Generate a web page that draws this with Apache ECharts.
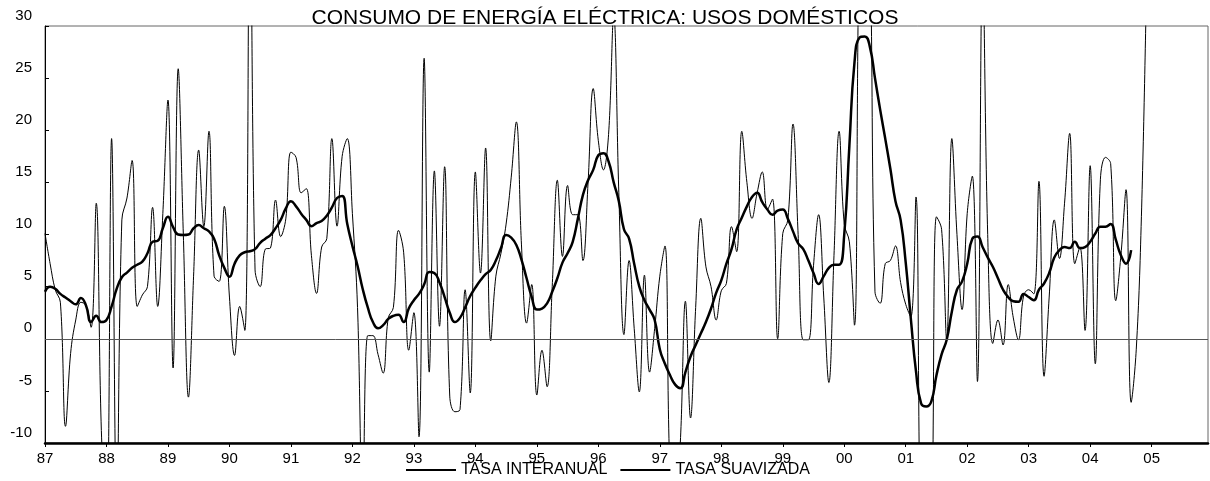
<!DOCTYPE html>
<html>
<head>
<meta charset="utf-8">
<script src="https://cdn.jsdelivr.net/npm/echarts@6/dist/echarts.min.js"></script>
<style>html,body{margin:0;padding:0;background:#fff}#c{width:1210px;height:481px}</style>
</head>
<body>
<div id="c"></div>
<script>
// Months 1987M01 .. 2005M12
const firstYear = 1987;
const lastYear = 2005;
const categories = [];
for (let y = firstYear; y <= lastYear; y++) {
  for (let m = 1; m <= 12; m++) categories.push(y + '-' + (m < 10 ? '0' + m : m));
}
const yTicks = { min: -10, max: 30, step: 5 };

const tasaInteranual = [
  10.1, 7.2, 4.7, 3.5, -8.4, -1.4, 1.8, 3.5, 3.2, 1.1, 13.0, -8.8,
  -18, 19.2, -17, 11.4, 13.5, 17.1, 3.1, 4.2, 5.0, 12.6, 3.1, 12,
  22.9, -2.8, 25.9, 10, -5.6, 6, 18.1, 10.75, 19.9, 6.0, 5.5, 12.7,
  4, -1.6, 3.1, 0.8, 45, 6.6, 5.0, 8.6, 8.7, 13.3, 9.8, 11.5,
  17.9, 17.4, 14.0, 14.4, 8, 4.35, 8.8, 9.6, 19.2, 10.8, 17.5, 19.2,
  12, 3, -16, 0.3, 0.3, -1.5, -3.3, 2.0, 3.0, 10.4, 8.3, -1.1,
  2.5, -9.4, 26.9, -3.2, 16.1, 1.2, 16.5, -5.5, -7.0, -6.8, 4.7, -5.2,
  16.0, 6.3, 18.3, -0.2, 6.0, 8.2, 11, 15.5, 20.8, 9, 1.5, 5.2,
  -5.4, -1.1, -4.6, 5, 15.2, 7.9, 14.7, 11.9, 11.9, 7.5, 15, 24.0,
  19, 16.2, 19.6, 31, 14, 0.4, 7.5, 1, -5.1, 6.1, -3.2, 1,
  6, 8.9, -13, -16, -10, 3.6, -7.6, 3, 11.55, 6.9, 5.0, 1.8,
  4.6, 5.3, 10.75, 8.35, 19.9, 15, 11.55, 14, 16.0, 12.4, 13.4, 0.0,
  10.1, 11.4, 20.6, 10, -0.1, -0.1, 7, 11.9, 4, -4.2, 8, 19.9,
  11, 9.3, 1.3, 40, 45, 38, 4.5, 3.4, 7.2, 7.5, 8.9, 5.4,
  3.3, 2.1, 13.6, -22, -25, -20, 11.7, 10.5, -0.1, 19.2, 10, 2.8,
  12, 15.6, -4.1, 36, 10, -0.45, 1.8, -0.6, 5.2, 2, -0.1, 4.1,
  4.7, 4.3, 15.1, -3.6, 4, 11.4, 7.7, 13, 19.7, 7.2, 8.8, 0.8,
  16.6, -2.4, 15.3, 17.4, 16.8, 3.65, 8, 14.3, -6.1, -1, 11.7, 34
];

const tasaSuavizada = [
  4.5, 5.0, 4.8, 4.3, 3.95, 3.6, 3.3, 3.9, 3.2, 1.6, 2.2, 1.6,
  1.8, 3.1, 4.8, 5.9, 6.35, 6.8, 7.1, 7.4, 8.2, 9.3, 9.4, 10.6,
  11.7, 10.7, 10.0, 9.95, 10.0, 10.6, 10.9, 10.6, 10.3, 9.6, 8.0, 6.8,
  5.95, 7.2, 8.0, 8.3, 8.4, 8.6, 9.2, 9.6, 9.95, 10.6, 11.4, 12.5,
  13.2, 12.7, 12.0, 11.4, 10.8, 11.1, 11.3, 11.8, 12.6, 13.5, 13.7, 11.0,
  8.9, 7.0, 4.8, 3.0, 1.6, 1.0, 1.3, 1.9, 2.2, 2.3, 1.6, 2.9,
  3.7, 4.3, 5.2, 6.4, 6.3, 5.4, 4.0, 2.5, 1.6, 2.0, 3.0, 4.1,
  4.9, 5.6, 6.2, 6.6, 7.5, 8.7, 9.95, 9.7, 9.0, 7.6, 5.8, 4.0,
  2.8, 2.9, 3.4, 4.5, 5.8, 7.3, 8.2, 9.3, 11.5, 13.8, 15.2, 16.2,
  17.6, 17.8, 17.0, 15.0, 13.2, 10.5, 9.6, 7.2, 5.0, 3.7, 2.8, 1.8,
  -1.0, -2.4, -3.5, -4.4, -4.75, -3.2, -1.7, -0.6, 0.5, 1.6, 2.9, 4.4,
  5.6, 7.2, 8.6, 10.5, 11.6, 12.7, 13.6, 14.0, 13.1, 12.4, 11.9, 12.3,
  12.4, 11.5, 10.3, 9.15, 8.6, 7.5, 6.3, 5.25, 6.0, 6.8, 7.1, 7.1,
  10.0, 18.5, 26.5, 28.9, 29.0, 28.0, 25.0, 22.0, 19.2, 16.3, 13.2, 11.4,
  7.3, 1.9, -3.1, -6.2, -6.5, -6.0, -3.5, -1.5, -0.1, 2.6, 4.7, 5.5,
  7.2, 9.6, 9.8, 8.8, 7.8, 6.9, 5.8, 4.7, 4.0, 3.6, 3.55, 4.3,
  4.0, 3.7, 4.7, 5.3, 6.3, 7.8, 8.5, 8.8, 8.7, 9.3, 8.7, 8.8,
  9.3, 10.1, 10.75, 10.75, 11.0, 9.5, 8.0, 7.2, 8.5
];

const FONT = '"Liberation Sans", Arial, sans-serif';
const chart = echarts.init(document.getElementById('c'), null, { renderer: 'canvas' });
chart.setOption({
  animation: false,
  backgroundColor: '#fff',
  title: {
    text: 'CONSUMO DE ENERGÍA ELÉCTRICA: USOS DOMÉSTICOS',
    left: 'center', top: 8, padding: 0,
    textStyle: { fontFamily: FONT, fontSize: 21, fontWeight: 'normal', color: '#000' }
  },
  legend: {
    data: ['TASA INTERANUAL', 'TASA SUAVIZADA'],
    left: 405, top: 462, padding: 0,
    itemWidth: 50, itemHeight: 14, itemGap: 12,
    itemStyle: { opacity: 0 },
    textStyle: { fontFamily: FONT, fontSize: 16, color: '#000', padding: [0, 0, 0, 0] }
  },
  grid: {
    left: 45, right: 2, top: 26, bottom: 38,
    show: true, borderColor: '#666', borderWidth: 1, backgroundColor: 'transparent'
  },
  xAxis: {
    type: 'category',
    data: categories,
    boundaryGap: false,
    axisLine: { show: true, onZero: false, lineStyle: { color: '#000', width: 2.5 } },
    axisTick: { show: true, interval: 11, length: 4, lineStyle: { color: '#000', width: 1 } },
    axisLabel: {
      interval: 11, margin: 8, color: '#000', fontFamily: FONT, fontSize: 15,
      formatter: v => v.slice(2, 4)
    },
    splitLine: { show: false }
  },
  yAxis: {
    type: 'value',
    min: yTicks.min, max: yTicks.max, interval: yTicks.step,
    axisLine: { show: true, onZero: false, lineStyle: { color: '#000', width: 1 } },
    axisTick: { show: true, inside: true, length: 4, lineStyle: { color: '#000' } },
    axisLabel: {
      margin: 13, color: '#000', fontFamily: FONT, fontSize: 15,
      verticalAlign: 'bottom', padding: [0, 0, 3, 0]
    },
    splitLine: { show: false }
  },
  series: [
    {
      name: 'TASA INTERANUAL',
      type: 'line',
      data: tasaInteranual,
      symbol: 'none',
      smooth: 0.4,
      clip: true,
      lineStyle: { color: '#000', width: 1 },
      itemStyle: { color: '#000' },
      z: 2,
      markLine: {
        silent: true, symbol: 'none', label: { show: false },
        lineStyle: { color: '#555', width: 1, type: 'solid' },
        data: [{ yAxis: 0 }]
      }
    },
    {
      name: 'TASA SUAVIZADA',
      type: 'line',
      data: tasaSuavizada,
      symbol: 'none',
      smooth: 0.5,
      clip: true,
      lineStyle: { color: '#000', width: 2.5 },
      itemStyle: { color: '#000' },
      z: 3
    }
  ]
});
</script>
</body>
</html>
